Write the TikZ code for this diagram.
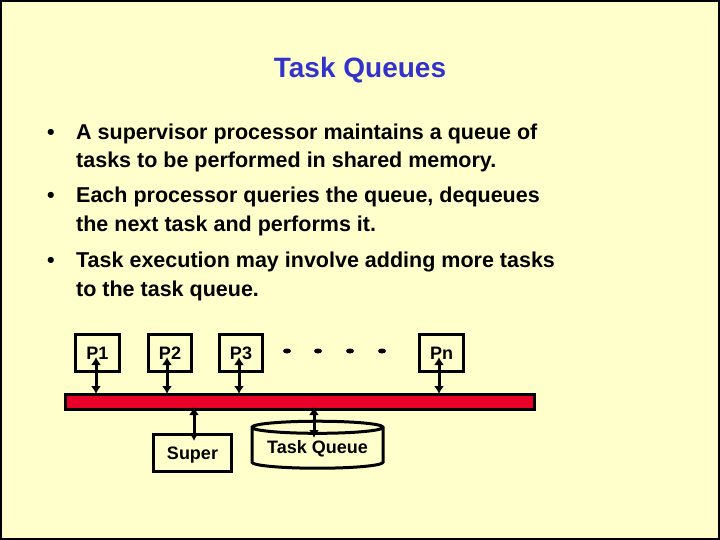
\documentclass[tikz,border=0pt]{standalone}
\usepackage{fontspec}
\setmainfont{Liberation Sans}
\usetikzlibrary{shapes.geometric,arrows.meta}
\definecolor{bg}{RGB}{255,255,204}
\definecolor{ttl}{RGB}{51,51,204}
\definecolor{busred}{RGB}{232,0,40}
\begin{document}
\begin{tikzpicture}[x=1pt,y=-1pt,
  proc/.style={draw,line width=3pt,minimum width=43pt,minimum height=37pt,inner sep=0pt,font=\bfseries\fontsize{18}{20}\selectfont,anchor=north west,text depth=0pt},
  link/.style={line width=3pt,{Latex[length=8pt,width=10pt]}-{Latex[length=8pt,width=10pt]}},
  txt/.style={anchor=base west,font=\bfseries\fontsize{21.5}{24}\selectfont,inner sep=0pt}]
\useasboundingbox (0,0) rectangle (720,540);
\fill[bg] (0,0) rectangle (720,540);
\draw[line width=2pt] (1,1) rectangle (719,539);
\node[text=ttl,font=\bfseries\fontsize{28}{32}\selectfont] (title) at (360,70) {Task Queues};
\foreach \y/\t [count=\i] in {140/{A supervisor processor maintains a queue of},168/{tasks to be performed in shared memory.},203/{Each processor queries the queue, dequeues},232/{the next task and performs it.},267/{Task execution may involve adding more tasks},296/{to the task queue.}}
  \node[txt] (l\i) at (76,\y) {\t};
\foreach \y [count=\i] in {140,203,267} \node[txt] (b\i) at (47,\y) {•};
\node[proc,minimum width=44pt] (p1) at (74,333) {P1};
\node[proc] (p2) at (147,333) {P2};
\node[proc] (p3) at (218,333) {P3};
\node[proc,minimum width=44pt] (pn) at (418,333) {Pn};
\foreach \x [count=\i] in {287,318,350,382} \fill (\x,351) ellipse (4pt and 2.5pt) coordinate (d\i);
\node[draw,line width=3pt,fill=busred,minimum width=469pt,minimum height=15pt,inner sep=0pt,anchor=north west] (bus) at (64,393) {};
\node[proc,minimum width=78pt] (sup) at (152,433) {Super};
\node[draw,line width=3pt,cylinder,shape border rotate=90,aspect=0.12,minimum width=131pt,minimum height=47pt,inner sep=0pt,font=\bfseries\fontsize{18}{20}\selectfont] (tq) at (317.5,448.5) {\raisebox{-10pt}{Task Queue}};
\foreach \n/\x in {p1/96,p2/167,p3/239,pn/439}
  \draw[link] (\x,357) coordinate (a\n) -- (\x,394) coordinate (b\n);
\draw[link] (194,407) coordinate (s1) -- (194,441) coordinate (s2);
\draw[link] (314,407) coordinate (t1) -- (314,438) coordinate (t2);
\end{tikzpicture}
\end{document}
